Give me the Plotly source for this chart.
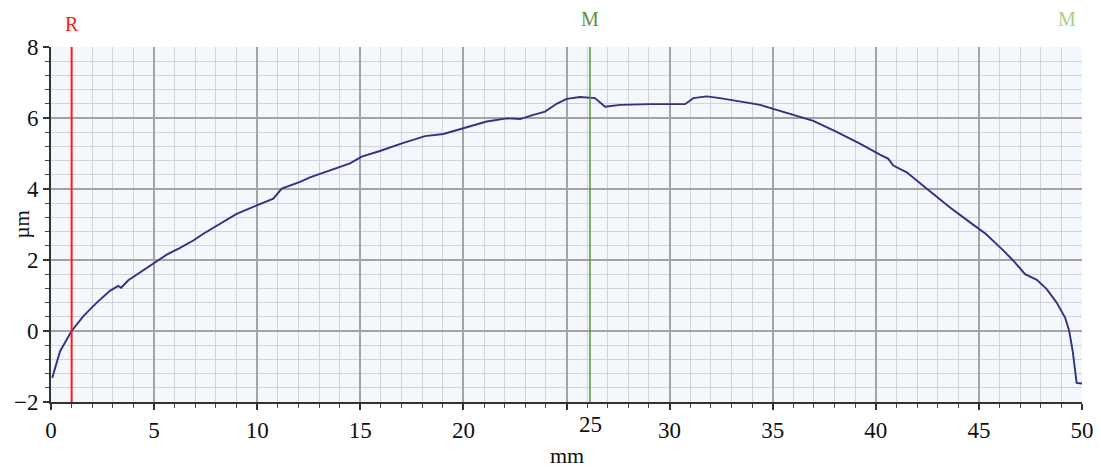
import plotly.graph_objects as go

# Profile data (mm, µm)
x_mm = [0.06, 0.44, 1.0, 1.57, 2.22, 2.86, 3.26, 3.4, 3.75, 4.32, 5.04, 5.61, 6.26, 6.9,
        7.39, 8.2, 9.0, 9.98, 10.78, 11.19, 12.08, 12.56, 13.53, 14.5, 15.07, 15.95,
        17.09, 18.14, 19.03, 20.16, 21.13, 22.1, 22.75, 23.39, 23.96, 24.52, 25.01,
        25.65, 26.38, 26.87, 27.6, 29.05, 30.75, 31.15, 31.8, 32.44, 32.93, 33.9,
        34.38, 35.27, 36.32, 36.97, 38.1, 39.23, 40.2, 40.61, 40.85, 41.5, 42.55,
        43.6, 44.57, 45.34, 46.18, 46.67, 47.24, 47.81, 48.29, 48.77, 49.18, 49.38,
        49.55, 49.66, 49.74, 50.0]
y_um = [-1.32, -0.57, 0.0, 0.42, 0.80, 1.13, 1.27, 1.22, 1.43, 1.65, 1.93, 2.15, 2.34, 2.55,
        2.74, 3.02, 3.3, 3.54, 3.73, 4.01, 4.2, 4.33, 4.53, 4.72, 4.91, 5.07,
        5.3, 5.49, 5.55, 5.73, 5.9, 5.99, 5.97, 6.09, 6.18, 6.4, 6.54,
        6.59, 6.56, 6.32, 6.37, 6.39, 6.39, 6.56, 6.61, 6.56, 6.52, 6.42,
        6.37, 6.22, 6.05, 5.92, 5.61, 5.28, 4.97, 4.85, 4.66, 4.47, 3.97,
        3.48, 3.06, 2.73, 2.27, 1.98, 1.6, 1.44, 1.18, 0.8, 0.38, 0.0,
        -0.57, -1.04, -1.46, -1.48]

# Cursor markers
marker_names = ["R", "M"]
marker_x = [1.0, 26.14]
marker_colors = ["#ff1a1a", "#5f8f3e"]
extra_marker_name = "M"
extra_marker_x = 49.27
extra_marker_color = "#a9cf8a"

# Axes
x_range = [0, 50]
y_range = [-2, 8]
x_tickvals = [0, 5, 10, 15, 20, 25, 30, 35, 40, 45, 50]
x_ticktext = ["0", "5", "10", "15", "20", "", "30", "35", "40", "45", "50"]
moved_tick_label = "25"
x_title = "mm"
y_title = "µm"

FONT = "Liberation Serif, Times New Roman, serif"
FS = 23

fig = go.Figure()
fig.add_trace(go.Scatter(x=x_mm, y=y_um, mode="lines",
                         line=dict(color="#2f3382", width=1.9),
                         hoverinfo="skip", showlegend=False))

shapes = []
annotations = []
for name, xv, col in zip(marker_names, marker_x, marker_colors):
    shapes.append(dict(type="line", xref="x", yref="paper", x0=xv, x1=xv, y0=0, y1=1,
                       line=dict(color=col, width=2 if name == "R" else 1.5), layer="above"))
    annotations.append(dict(x=xv, xref="x", y=1, yref="paper", yanchor="bottom",
                            text=name, showarrow=False, borderpad=0,
                            yshift=11 if name == "R" else 16,
                            font=dict(family=FONT, size=FS - 3, color=col)))
# small handle on the M cursor
shapes.append(dict(type="rect", xref="x", yref="y", xsizemode="pixel", ysizemode="pixel",
                   xanchor=marker_x[1], yanchor=y_range[1], x0=-4, x1=4, y0=1, y1=9,
                   line=dict(color="#9a9a9a", width=1.5), fillcolor="white", layer="above"))
annotations.append(dict(x=extra_marker_x, xref="x", y=1, yref="paper", yanchor="bottom",
                        text=extra_marker_name, showarrow=False, borderpad=0, yshift=16,
                        font=dict(family=FONT, size=FS - 3, color=extra_marker_color)))
annotations.append(dict(x=marker_x[1], xref="x", y=0, yref="paper", yanchor="top",
                        text=moved_tick_label, showarrow=False, borderpad=0, yshift=-9,
                        font=dict(family=FONT, size=FS, color="#111")))
# axis titles
annotations.append(dict(x=0.5, xref="paper", y=0, yref="paper", yanchor="top",
                        text=x_title, showarrow=False, borderpad=0, yshift=-40,
                        font=dict(family=FONT, size=FS - 1, color="#111")))
annotations.append(dict(x=0, xref="paper", y=0.5, yref="paper", xanchor="center",
                        text=y_title, showarrow=False, borderpad=0, xshift=-30, textangle=-90,
                        font=dict(family=FONT, size=FS - 2, color="#111")))

# page body has an 8px margin, so the figure is sized to fit inside the window
fig.update_layout(
    width=1093, height=460,
    margin=dict(l=43, r=19, t=39, b=66),
    paper_bgcolor="white", plot_bgcolor="#f4f8fd",
    font=dict(family=FONT, size=FS, color="#111"),
    shapes=shapes, annotations=annotations,
    xaxis=dict(range=x_range, tickvals=x_tickvals, ticktext=x_ticktext, automargin=False,
               showgrid=True, gridcolor="#a3a3a3", gridwidth=1.5,
               ticks="outside", ticklen=6, tickwidth=1.5, tickcolor="#333",
               showline=True, linecolor="#333", linewidth=2, zeroline=False,
               minor=dict(dtick=1, tick0=0, showgrid=True, gridcolor="#d0d4da", gridwidth=1,
                          ticks="outside", ticklen=4, tickwidth=1.2, tickcolor="#444"),
               tickfont=dict(family=FONT, size=FS)),
    yaxis=dict(range=y_range, dtick=2, tick0=0, automargin=False,
               showgrid=True, gridcolor="#a3a3a3", gridwidth=1.5,
               ticks="outside", ticklen=6, tickwidth=1.5, tickcolor="#333",
               showline=True, linecolor="#333", linewidth=2, zeroline=False,
               minor=dict(dtick=0.4, tick0=0, showgrid=True, gridcolor="#d0d4da", gridwidth=1,
                          ticks="outside", ticklen=4, tickwidth=1.2, tickcolor="#444"),
               tickfont=dict(family=FONT, size=FS)),
)

fig.write_html("out.html")
